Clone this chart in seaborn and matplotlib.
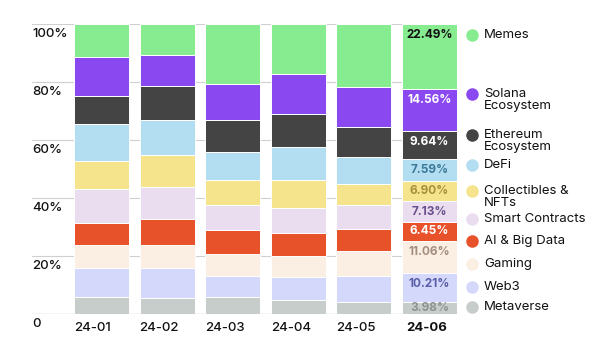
import matplotlib
matplotlib.use("Agg")
import matplotlib.pyplot as plt
import matplotlib.transforms as mtransforms
import seaborn as sns
import numpy as np
import pandas as pd

months = ["24-01", "24-02", "24-03", "24-04", "24-05", "24-06"]
categories = ["Metaverse", "Web3", "Gaming", "AI & Big Data", "Smart Contracts",
              "Collectibles & NFTs", "DeFi", "Ethereum Ecosystem", "Solana Ecosystem", "Memes"]
legend_labels = ["Metaverse", "Web3", "Gaming", "AI & Big Data", "Smart Contracts",
                 "Collectibles &\nNFTs", "DeFi", "Ethereum\nEcosystem", "Solana\nEcosystem", "Memes"]

metaverse = [5.8, 5.6, 5.9, 4.9, 4.2, 3.98]
web3 = [10.2, 10.1, 7.3, 7.7, 9.0, 10.21]
gaming = [7.7, 8.2, 7.4, 7.5, 8.6, 11.06]
ai_big_data = [7.6, 8.7, 8.4, 7.8, 7.5, 6.45]
smart_contracts = [11.8, 11.3, 8.6, 8.8, 8.3, 7.13]
collectibles = [9.7, 10.9, 8.6, 9.5, 7.2, 6.90]
defi = [12.8, 12.2, 9.5, 11.4, 9.2, 7.59]
ethereum = [9.5, 11.7, 11.2, 11.3, 10.5, 9.64]
solana = [13.4, 10.6, 12.4, 13.8, 13.8, 14.56]
memes = [11.5, 10.7, 20.7, 17.3, 21.7, 22.49]

last_labels = ["3.98%", "10.21%", "11.06%", "6.45%", "7.13%", "6.90%", "7.59%", "9.64%", "14.56%", "22.49%"]

series = [metaverse, web3, gaming, ai_big_data, smart_contracts,
          collectibles, defi, ethereum, solana, memes]
colors = ["#c7cdca", "#d4d8fa", "#fbeee3", "#e8522b", "#eaddef",
          "#f6e48c", "#b3ddf0", "#444444", "#8a49f0", "#87ec90"]
label_colors = ["#8c9491", "#5a5ea8", "#a38e7e", "#ffffff", "#6b4f8c",
                "#a88f3a", "#3b7a99", "#ffffff", "#ffffff", "#111111"]

sns.set_theme(style="white")
plt.rcParams['font.family'] = ['Inter', 'DejaVu Sans']

fig = plt.figure(figsize=(6.0, 3.51), dpi=100)
W, H = 600, 351
ax = fig.add_axes([32 / W, (H - 314) / H, (457 - 32) / W, (314 - 24) / H])

bw = 0.84
bottom = np.zeros(len(months))
tops = []
for vals, col in zip(series, colors):
    df = pd.DataFrame({"month": months, "value": vals})
    sns.barplot(data=df, x="month", y="value", color=col, width=bw,
                bottom=bottom.copy(), errorbar=None, ax=ax,
                edgecolor="white", linewidth=0.7, saturation=1, zorder=2)
    bottom = bottom + np.array(vals)
    tops.append(bottom.copy())

ax.set_xlim(-1.06, 5.42)
ax.set_ylim(0, 100)
for sp in ax.spines.values():
    sp.set_visible(False)
ax.set_xlabel("")
ax.set_ylabel("")
ax.set_xticks([])
ax.set_yticks([])

# gridlines
for yv in [0, 20, 40, 60, 80, 100]:
    ax.axhline(yv, color="#aaaaaa" if yv == 0 else "#d0d0d0", lw=0.9 if yv == 0 else 0.8, zorder=1)

# y tick labels (below gridline, left aligned)
ytrans = mtransforms.blended_transform_factory(fig.transFigure, ax.transData)
shift = mtransforms.ScaledTranslation(0, -4 / 100, fig.dpi_scale_trans)
for yv, txt in zip([0, 20, 40, 60, 80, 100], ["0", "20%", "40%", "60%", "80%", "100%"]):
    ax.text(32 / W, yv, txt, transform=ytrans + shift, ha="left", va="top", fontsize=9.5,
            color="#111111", fontweight="medium")

# x tick labels, left aligned with bar edges
xtrans = mtransforms.blended_transform_factory(ax.transData, fig.transFigure)
for i, m in enumerate(months):
    ax.text(i - bw / 2 + (0.06 if i == 5 else 0), (H - 328) / H, m, transform=xtrans,
            ha="left", va="center", fontsize=9.5, color="#111111",
            fontweight="bold" if i == 5 else "medium")

# value labels on last bar
for k in range(len(series)):
    top = tops[k][5]
    seg = series[k][5]
    y = top - min(3.8, seg / 2)
    ax.text(5, y, last_labels[k], ha="center", va="center", fontsize=8.5,
            fontweight="bold", color=label_colors[k], zorder=5)

# custom legend
legend_y = [307, 287, 264, 241, 219, 197, 165, 141, 100, 35]
for lab, col, yp in zip(legend_labels, colors, legend_y):
    nlines = lab.count("\n") + 1
    my = yp if nlines == 1 else yp - 6.5
    fig.add_artist(plt.Line2D([472 / W], [(H - my) / H], marker="o", markersize=8,
                              color=col, linestyle="none", transform=fig.transFigure))
    fig.text(484 / W, (H - yp) / H, lab, ha="left", va="center", fontsize=9.5,
             color="#111111", linespacing=0.95)

fig.savefig("out.png", dpi=100, facecolor="white")
